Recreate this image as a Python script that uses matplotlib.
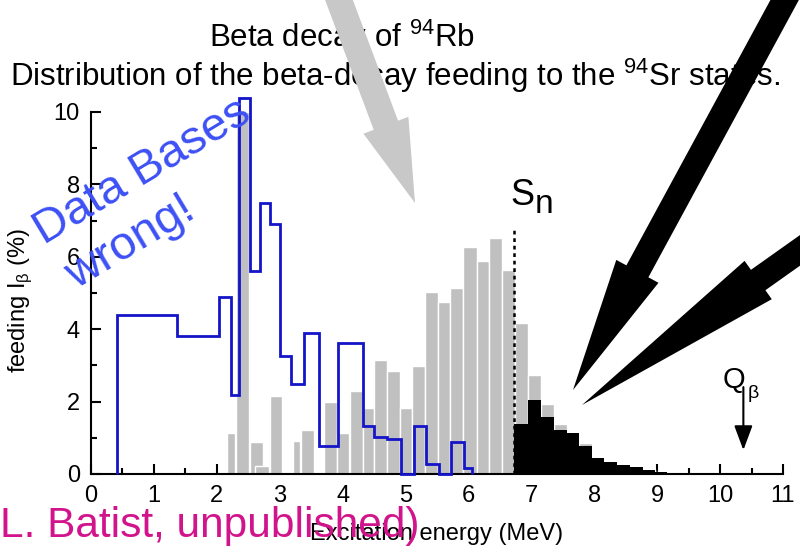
import numpy as np
import matplotlib
matplotlib.use('Agg')
import matplotlib.pyplot as plt
from matplotlib.patches import FancyArrow

plt.rcParams['font.family'] = ['Liberation Sans', 'DejaVu Sans']
plt.rcParams['mathtext.fontset'] = 'custom'
plt.rcParams['mathtext.rm'] = 'Liberation Sans'

# feeding from total absorption measurement (grey bars, MeV bin edges)
tags_lo = [2.16, 2.31, 2.52, 2.61, 2.84, 3.21, 3.34, 3.71, 3.91, 4.11, 4.32, 4.50,
           4.70, 4.91, 5.10, 5.31, 5.52, 5.71, 5.92, 6.13, 6.33, 6.54, 6.74, 6.95,
           7.15, 7.36, 7.56, 7.76, 7.96, 8.16, 8.36, 8.57, 8.77, 8.96]
tags_hi = [2.29, 2.51, 2.74, 2.83, 3.04, 3.33, 3.55, 3.91, 4.10, 4.32, 4.50, 4.70,
           4.91, 5.10, 5.31, 5.52, 5.71, 5.92, 6.13, 6.33, 6.54, 6.74, 6.95, 7.15,
           7.36, 7.56, 7.76, 7.96, 8.16, 8.36, 8.57, 8.77, 8.96, 9.15]
tags_feed = [1.13, 10.0, 0.87, 0.23, 2.15, 0.90, 1.22, 2.00, 1.13, 2.28, 1.82, 3.16,
             2.85, 1.82, 2.99, 5.03, 4.76, 5.13, 6.26, 5.87, 6.52, 5.64, 4.16, 2.73,
             1.93, 1.38, 1.17, 0.85, 0.47, 0.36, 0.26, 0.22, 0.13, 0.06]

# part of the feeding above the neutron separation energy (black)
sn_edges = [6.72, 6.95, 7.15, 7.36, 7.56, 7.76, 7.96, 8.16, 8.36, 8.57, 8.77, 8.96, 9.15]
sn_feed = [1.38, 2.04, 1.58, 1.21, 1.12, 0.77, 0.43, 0.34, 0.25, 0.20, 0.11, 0.06]

# data base feeding (blue histogram)
db_edges = [0.41, 1.37, 2.04, 2.22, 2.35, 2.52, 2.68, 2.84, 3.00, 3.18, 3.38, 3.63,
            3.92, 4.32, 4.50, 4.71, 4.92, 5.13, 5.32, 5.53, 5.73, 5.93, 6.06]
db_feed = [4.40, 3.80, 4.90, 2.19, 10.4, 5.62, 7.49, 6.90, 3.25, 2.49, 3.90, 0.77,
           3.63, 1.33, 1.03, 0.96, 0.0, 1.33, 0.28, 0.0, 0.88, 0.16]

S_n = 6.72
Q_beta = 10.37

fig = plt.figure(figsize=(8, 5.46), dpi=100)
ax = fig.add_axes([0.11375, 0.1319, 0.865, 0.663])

lo = np.array(tags_lo)
hi = np.array(tags_hi)
ax.bar(lo, tags_feed, width=hi - lo, align='edge', color='#c0c0c0', edgecolor='white',
       linewidth=1, zorder=2, clip_on=False)
ax.stairs(sn_feed, sn_edges, fill=True, color='black', zorder=3)
ax.stairs(db_feed, db_edges, baseline=0, color='#1414c8', linewidth=2, zorder=4,
          clip_on=False)

# neutron separation energy
ax.plot([S_n, S_n], [0, 6.74], color='black', linewidth=1.8, linestyle=(0, (1.5, 1.5)),
        zorder=5)
ax.text(S_n - 0.06, 7.43, 'S', fontsize=26, va='baseline', ha='left')
ax.text(S_n + 0.33, 7.2, 'n', fontsize=24, va='baseline', ha='left')

# Q value
ax.annotate('', xy=(Q_beta, 0.66), xytext=(Q_beta, 2.4),
            arrowprops=dict(arrowstyle='-|>,head_length=0.75,head_width=0.28',
                            color='black', lw=1.5, mutation_scale=20,
                            shrinkA=0, shrinkB=0))
ax.text(Q_beta - 0.33, 2.38, 'Q', fontsize=21, va='baseline', ha='left')
ax.text(Q_beta + 0.07, 2.1, 'β', fontsize=14, va='baseline', ha='left')

ax.set_xlim(0, 11)
ax.set_ylim(0, 10)
ax.set_xticks(np.arange(0, 12, 1))
ax.set_xticks(np.arange(0.5, 11, 1), minor=True)
ax.set_yticks(np.arange(0, 11, 2))
ax.set_yticks(np.arange(1, 10, 2), minor=True)
for side in ['top', 'right']:
    ax.spines[side].set_visible(False)
for side in ['left', 'bottom']:
    ax.spines[side].set_linewidth(1.5)
ax.tick_params(which='both', direction='in', width=1.5, labelsize=17, pad=8)
ax.tick_params(which='major', length=7.5)
ax.tick_params(which='minor', length=4)

ax.set_xlabel('Excitation energy (MeV)', fontsize=17)
ax.set_ylabel(r'feeding I$_{\mathregular{β}}$ (%)', fontsize=17)
ax.xaxis.set_label_coords(0.5, -0.135)
ax.yaxis.set_label_coords(-0.083, 0.48)

# titles
fig.text(342 / 800, 1 - 47 / 546, r'Beta decay of $^{\mathregular{94}}$Rb',
         fontsize=22.5, ha='center', va='baseline')
fig.text(395 / 800, 1 - 86 / 546,
         r'Distribution of the beta-decay feeding to the $^{\mathregular{94}}$Sr states.',
         fontsize=22.5, ha='center', va='baseline')

# remarks written over the plot
fig.text(142 / 800, 1 - 172 / 546, 'Data Bases', fontsize=34, color='#3d50f5',
         rotation=31, ha='center', va='center', rotation_mode='anchor', zorder=8)
fig.text(131 / 800, 1 - 243 / 546, 'wrong!', fontsize=34, color='#3d50f5',
         rotation=31, ha='center', va='center', rotation_mode='anchor', zorder=8)
fig.text(0.0, 1 - 537 / 546, 'L. Batist, unpublished)', fontsize=30.5,
         color='#d2148c', ha='left', va='baseline', zorder=8)


# big pointer arrows, drawn in pixel units turned into inches
def arrow(x0, y0, x1, y1, shaft, head_w, head_l, color):
    a = FancyArrow(x0 / 100, (546 - y0) / 100, (x1 - x0) / 100, (y0 - y1) / 100,
                   width=shaft / 100, head_width=head_w / 100, head_length=head_l / 100,
                   length_includes_head=True, color=color, linewidth=0,
                   transform=fig.dpi_scale_trans, zorder=10)
    fig.add_artist(a)


arrow(324, -40, 415, 203, 26, 48, 83, '#c8c8c8')
arrow(821, -67, 573, 390, 25, 48, 135, 'black')
arrow(840, 222, 582, 405, 25, 47, 216, 'black')

fig.savefig('out.png', dpi=100)
